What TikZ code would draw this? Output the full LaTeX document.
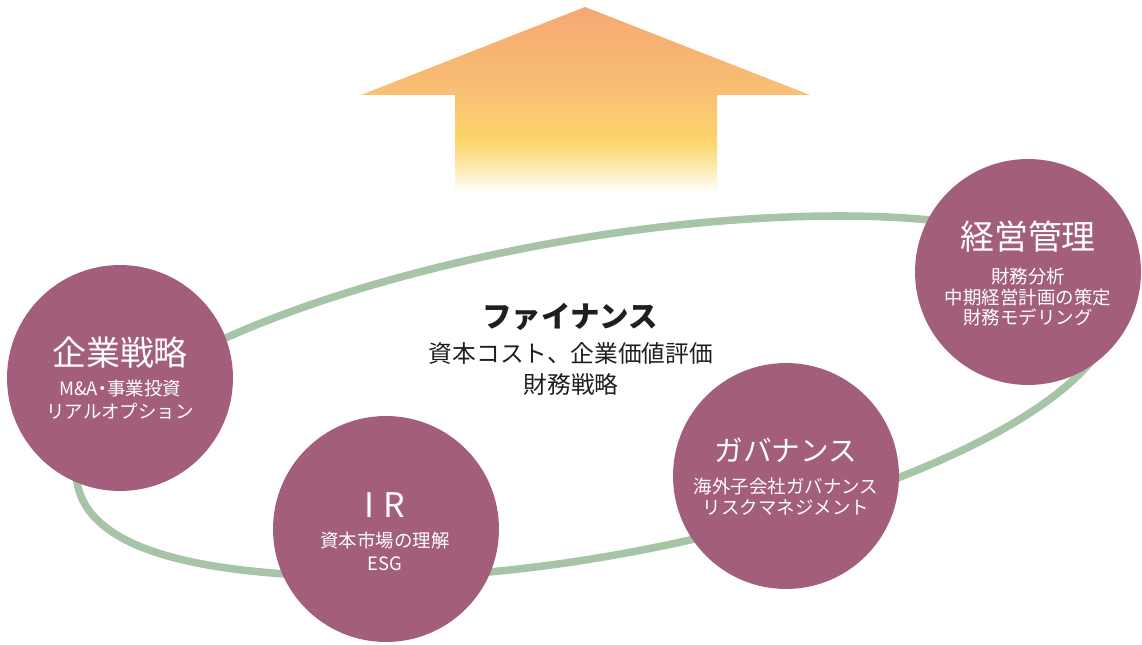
\documentclass[tikz,border=0pt]{standalone}
\usepackage{fontspec}
\setmainfont{Noto Sans CJK JP}
\newfontfamily\jpp{Noto Sans CJK JP}[RawFeature=+palt]
\definecolor{mauve}{RGB}{163,94,124}
\definecolor{loopgreen}{RGB}{167,196,167}
\definecolor{darktext}{RGB}{35,30,30}
\definecolor{arrA}{RGB}{245,168,115}
\definecolor{arrB}{RGB}{249,192,115}
\definecolor{arrC}{RGB}{252,213,105}
\definecolor{arrD}{RGB}{253,232,170}
\begin{document}
\begin{tikzpicture}[x=0.02cm,y=-0.02cm,
  bubble/.style={circle,fill=mauve,minimum size=4.52cm,inner sep=0pt},
  ctitle/.style={text=white,font=\fontsize{19.3}{23}\selectfont,align=center,inner sep=0pt},
  csub/.style={text=white,align=center,inner sep=0pt},
  loopline/.style={draw=loopgreen,line width=4.3pt},
  midtitle/.style={text=darktext,font=\bfseries\fontsize{16.8}{20}\selectfont,inner sep=0pt},
  midsub/.style={text=darktext,font=\fontsize{13.5}{17}\selectfont,inner sep=0pt}
  ]
\useasboundingbox (0,0) rectangle (1142,645);
% upward arrow with gradient
\begin{scope}
  \clip (585,7) -- (810,95) -- (717,95) -- (717,192) -- (455,192) -- (455,95) -- (361,95) -- cycle;
  \shade[top color=arrA, bottom color=arrB] (350,6) rectangle (820,96);
  \shade[top color=arrB, bottom color=arrC] (350,95) rectangle (820,141);
  \shade[top color=arrC, bottom color=arrD] (350,140) rectangle (820,166);
  \shade[top color=arrD, bottom color=white] (350,165) rectangle (820,193);
\end{scope}
% green loop
\draw[loopline] (76,470) .. controls (76,350) and (500,216) .. (840,216)
  .. controls (1000,216) and (1115,250) .. (1115,305)
  .. controls (1115,440) and (680,577) .. (385,577)
  .. controls (230,577) and (76,560) .. (76,470) -- cycle;
% circles
\node[bubble] (kigyo) at (120,378) {};
\node[bubble] (ir) at (386,529) {};
\node[bubble] (gov) at (786,476) {};
\node[bubble] (keiei) at (1028,272) {};
% circle texts
\node[ctitle] (kigyoT) at (120,353) {企業戦略};
\node[csub,font=\fontsize{10.5}{13}\selectfont] (kigyoS) at (120,400) {M\&A{\jpp ・}事業投資\\リアルオプション};
\node[ctitle] (irT) at (385,505) {I\kern5pt R};
\node[csub,font=\fontsize{10.5}{13}\selectfont] (irS) at (385,551) {資本市場の理解\\ESG};
\node[ctitle,font=\fontsize{16.3}{20}\selectfont] (govT) at (786,450) {ガバナンス};
\node[csub,font=\fontsize{10.5}{12}\selectfont] (govS) at (786,497) {海外子会社ガバナンス\\リスクマネジメント};
\node[ctitle] (keieiT) at (1028,237) {経営管理};
\node[csub,font=\fontsize{10.5}{11.4}\selectfont] (keieiS) at (1028,297) {財務分析\\中期経営計画の策定\\財務モデリング};
% center texts
\node[midtitle] (fin) at (570,317) {ファイナンス};
\node[midsub] (fin1) at (571,353) {資本コスト、企業価値評価};
\node[midsub] (fin2) at (571,384) {財務戦略};
\end{tikzpicture}
\end{document}
